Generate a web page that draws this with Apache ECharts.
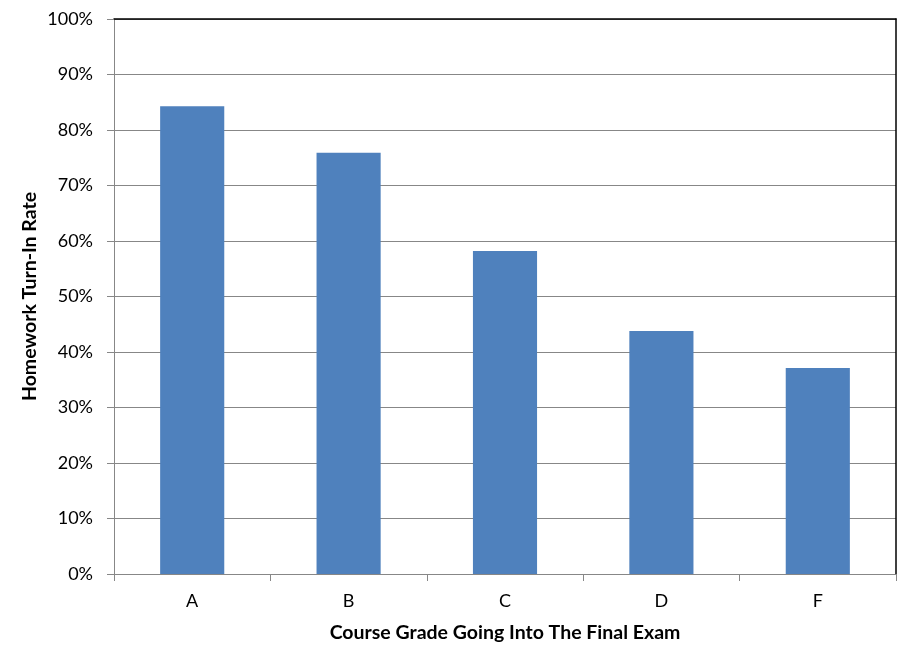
<!DOCTYPE html>
<html><head><meta charset="utf-8">
<script src="https://cdn.jsdelivr.net/npm/echarts@6/dist/echarts.min.js"></script>
<style>html,body{margin:0;padding:0;background:#fff}#c{width:911px;height:661px}</style>
</head><body><div id="c"></div>
<script>
const categories = ['A', 'B', 'C', 'D', 'F'];
const turnInRate = [84.3, 75.9, 58.2, 43.8, 37.1];
const yTicks = [0, 10, 20, 30, 40, 50, 60, 70, 80, 90, 100];
const xTitle = 'Course Grade Going Into The Final Exam';
const yTitle = 'Homework Turn-In Rate';

const FONT = 'Lato';
const chart = echarts.init(document.getElementById('c'));
chart.setOption({
  animation: false,
  backgroundColor: '#fff',
  grid: { left: 114, right: 15, top: 19, bottom: 87, containLabel: false },
  xAxis: [{
    type: 'category', data: categories,
    axisLine: { lineStyle: { color: '#878787', width: 1 } },
    axisTick: { show: true, length: 7, lineStyle: { color: '#878787' } },
    axisLabel: { color: '#000', fontFamily: FONT, fontSize: 18, margin: 18 },
    name: xTitle, nameLocation: 'middle', nameGap: 49,
    nameTextStyle: { color: '#000', fontFamily: FONT, fontWeight: 'bold', fontSize: 19.5 }
  }, {
    type: 'category', data: categories, position: 'top',
    axisLine: { onZero: false, lineStyle: { color: '#000', width: 1.5 } },
    axisTick: { show: false }, axisLabel: { show: false }
  }],
  yAxis: [{
    type: 'value', min: 0, max: 100, interval: 10,
    axisLine: { show: true, lineStyle: { color: '#878787', width: 1 } },
    axisTick: { show: true, length: 7, lineStyle: { color: '#878787' } },
    splitLine: { show: true, lineStyle: { color: '#878787', width: 1 } },
    axisLabel: { color: '#000', fontFamily: FONT, fontSize: 18, margin: 21,
      formatter: v => yTicks.includes(v) ? v + '%' : '' },
    name: yTitle, nameLocation: 'middle', nameGap: 74, nameRotate: 90, nameMoveOverlap: false,
    nameTextStyle: { color: '#000', fontFamily: FONT, fontWeight: 'bold', fontSize: 19.5 }
  }, {
    type: 'value', min: 0, max: 100, interval: 10, position: 'right',
    axisLine: { show: true, onZero: false, lineStyle: { color: '#000', width: 1.5 } },
    axisTick: { show: false }, axisLabel: { show: false }, splitLine: { show: false }
  }],
  series: [{
    type: 'bar', data: turnInRate, barWidth: '41%',
    itemStyle: { color: '#4F81BD' }
  }]
});
</script></body></html>
